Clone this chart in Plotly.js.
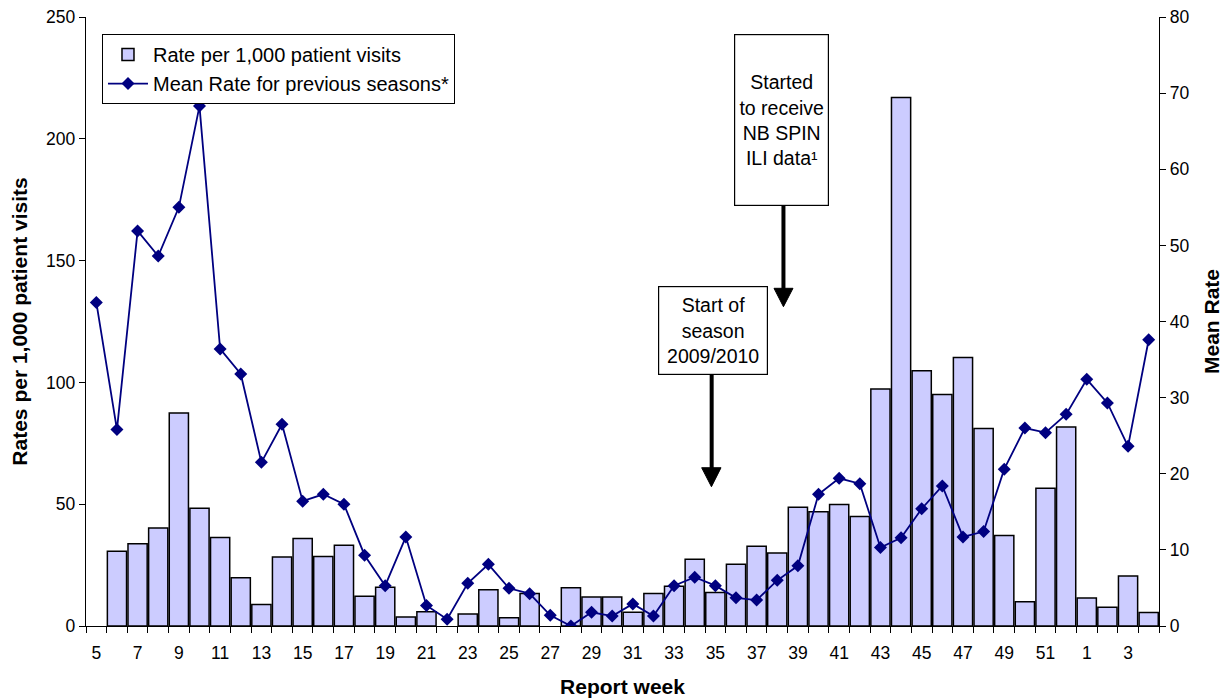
<!DOCTYPE html>
<html>
<head>
<meta charset="utf-8">
<script src="https://cdn.plot.ly/plotly-3.0.1.min.js"></script>
<style>
html,body{margin:0;padding:0;background:#fff;}
#chart{width:1228px;height:698px;}
</style>
</head>
<body>
<div id="chart"></div>
<script>
var weeks = ["5","6","7","8","9","10","11","12","13","14","15","16","17","18","19","20",
  "21","22","23","24","25","26","27","28","29","30","31","32","33","34","35","36",
  "37","38","39","40","41","42","43","44","45","46","47","48","49","50","51","52",
  "1","2","3","4"];
var tickLabels = ["5","7","9","11","13","15","17","19","21","23","25","27","29","31","33","35",
  "37","39","41","43","45","47","49","51","1","3"];
var ratePer1000 = [null,30.7,33.8,40.2,87.4,48.3,36.3,19.8,8.8,28.3,35.9,28.5,33.1,12.2,15.9,3.7,
  5.9,null,4.9,14.9,3.4,13.3,null,15.7,11.9,11.9,5.6,13.3,16.3,27.4,13.8,25.3,
  32.7,30.0,48.7,46.9,49.9,44.9,97.3,217,104.8,95.0,110.2,81.1,37.2,10.0,56.5,81.7,
  11.5,7.7,20.5,5.5];
var meanRate = [42.5,25.8,51.9,48.6,55.0,68.3,36.4,33.1,21.5,26.5,16.4,17.3,16.0,9.3,5.3,11.7,
  2.7,0.9,5.6,8.1,4.95,4.25,1.4,0,1.8,1.3,2.9,1.3,5.3,6.4,5.3,3.7,
  3.4,6.0,7.9,17.3,19.4,18.7,10.3,11.6,15.4,18.4,11.7,12.4,20.6,26.0,25.4,27.8,
  32.4,29.3,23.6,37.6];

var FONT = '"Liberation Sans", Arial, sans-serif';

var traces = [
  {type:'bar', x:weeks, y:ratePer1000, name:'Rate per 1,000 patient visits',
   xaxis:'x', yaxis:'y',
   marker:{color:'#CCCCFF', line:{color:'#000000', width:1.5}}},
  {type:'scatter', mode:'lines+markers', x:weeks, y:meanRate,
   name:'Mean Rate for previous seasons*', xaxis:'x2', yaxis:'y2',
   line:{color:'#000080', width:1.8},
   marker:{symbol:'diamond', size:10, color:'#000080'}}
];

var layout = {
  width:1228, height:698,
  margin:{l:86, r:69, t:17, b:72},
  paper_bgcolor:'#ffffff', plot_bgcolor:'#ffffff',
  font:{family:FONT, color:'#000000', size:17.5},
  bargap:0.07,
  showlegend:true,
  legend:{x:0.0149, y:0.9720, xanchor:'left', yanchor:'top',
    bordercolor:'#000000', borderwidth:1, bgcolor:'#ffffff',
    font:{family:FONT, size:20, color:'#000000'}, itemwidth:40,
    tracegroupgap:0},
  xaxis:{type:'category', categoryorder:'array', categoryarray:weeks,
    range:[-0.5, 51.5], tickmode:'array', tickvals:tickLabels, ticktext:tickLabels,
    ticks:'outside', ticklen:11, tickcolor:'rgba(0,0,0,0)',
    showline:true, linecolor:'#000000', linewidth:1.2, showgrid:false, zeroline:false,
    tickfont:{family:FONT, size:17.5, color:'#000000'},
    title:{text:'<b>Report week</b>', font:{family:FONT, size:21, color:'#000000'}, standoff:18}},
  xaxis2:{type:'category', categoryorder:'array', categoryarray:weeks,
    range:[-0.5, 51.5], overlaying:'x', anchor:'y', side:'bottom',
    tickmode:'array', tickvals:weeks, tickson:'boundaries',
    ticks:'outside', ticklen:6, tickcolor:'#000000', tickwidth:1,
    showticklabels:false, showline:false, showgrid:false, zeroline:false},
  yaxis:{range:[0,250], dtick:50, tick0:0, ticks:'outside', ticklen:6, tickcolor:'#000000',
    showline:true, linecolor:'#000000', linewidth:1.2, showgrid:false, zeroline:false,
    tickfont:{family:FONT, size:17.5, color:'#000000'},
    title:{text:'<b>Rates per 1,000 patient visits</b>', font:{family:FONT, size:21, color:'#000000'}, standoff:12}},
  yaxis2:{range:[0,80], dtick:10, tick0:0, overlaying:'y', side:'right', anchor:'x',
    ticks:'outside', ticklen:6, tickcolor:'#000000',
    showline:true, linecolor:'#000000', linewidth:1.2, showgrid:false, zeroline:false,
    tickfont:{family:FONT, size:17.5, color:'#000000'},
    title:{text:'<b>Mean Rate</b>', font:{family:FONT, size:21, color:'#000000'}, standoff:15}},
  annotations:[
    {xref:'paper', yref:'paper', x:0.648, y:0.831, xanchor:'center', yanchor:'middle',
     text:'Started<br>to receive<br>NB SPIN<br>ILI data\u00b9', showarrow:false,
     width:93, height:170, borderpad:0, bordercolor:'#000000', borderwidth:1.2,
     bgcolor:'#ffffff', align:'center', valign:'middle',
     font:{family:FONT, size:19.5, color:'#000000'}},
    {xref:'paper', yref:'paper', x:0.5839, y:0.4852, xanchor:'center', yanchor:'middle',
     text:'Start of<br>season<br>2009/2010', showarrow:false,
     width:108, height:87, borderpad:0, bordercolor:'#000000', borderwidth:1.2,
     bgcolor:'#ffffff', align:'center', valign:'middle',
     font:{family:FONT, size:19.5, color:'#000000'}}
  ],
  shapes:[
    {type:'line', xref:'paper', yref:'paper', x0:0.6500, x1:0.6500, y0:0.6901, y1:0.5530,
     line:{color:'#000000', width:4}},
    {type:'path', xref:'paper', yref:'paper',
     path:'M 0.6412 0.5545 L 0.6589 0.5545 L 0.6500 0.5243 Z',
     fillcolor:'#000000', line:{color:'#000000', width:1}},
    {type:'line', xref:'paper', yref:'paper', x0:0.5831, x1:0.5831, y0:0.4122, y1:0.2590,
     line:{color:'#000000', width:4}},
    {type:'path', xref:'paper', yref:'paper',
     path:'M 0.5738 0.2599 L 0.5918 0.2599 L 0.5829 0.2287 Z',
     fillcolor:'#000000', line:{color:'#000000', width:1}}
  ]
};

Plotly.newPlot('chart', traces, layout, {displayModeBar:false, staticPlot:true});
</script>
</body>
</html>
